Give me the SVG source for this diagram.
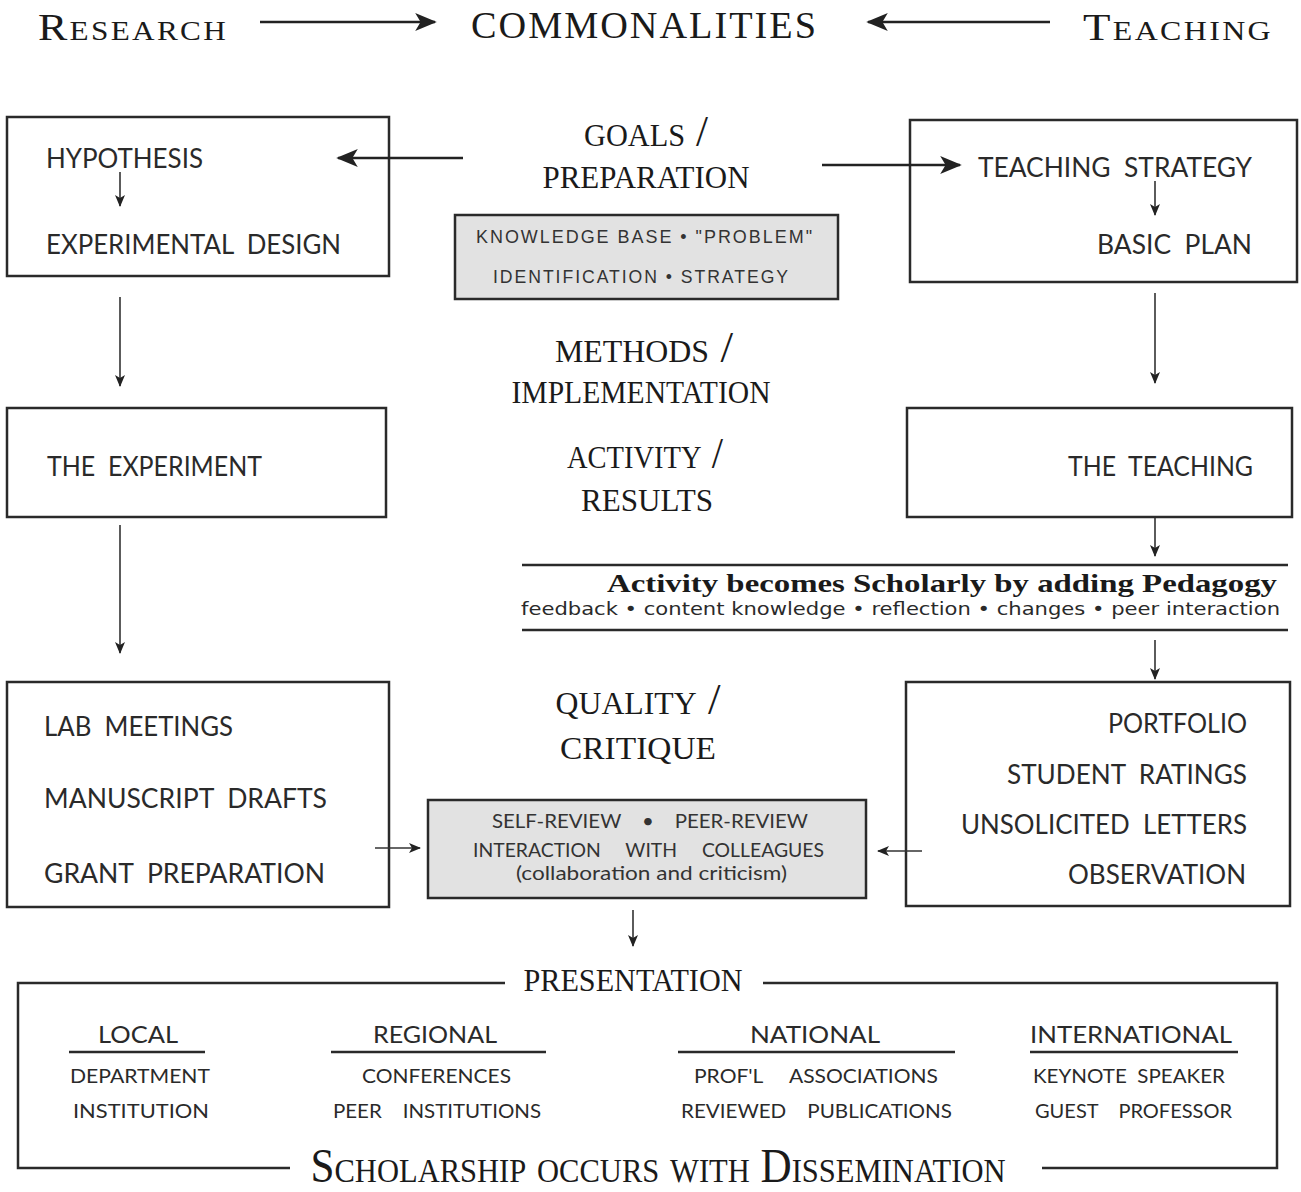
<svg xmlns="http://www.w3.org/2000/svg" width="1301" height="1192" viewBox="0 0 1301 1192">
<style>
.box{fill:#fff;stroke:#2a2a2a;stroke-width:2.5}
.gbox{fill:#e2e2e2;stroke:#2a2a2a;stroke-width:2.5}
.ln{stroke:#2a2a2a;stroke-width:2.5;fill:none}
.c{stroke:#333;stroke-width:1.6;fill:none}
.cb{stroke:#222;stroke-width:2.5;fill:none}
.lab{font-family:"Lato","Liberation Sans",sans-serif;font-size:27px;fill:#2a2a2a}
.unc{font-family:"Liberation Serif","DejaVu Serif",serif;font-variant:small-caps;font-size:44px;fill:#1a1a1a;text-anchor:middle}
.tit{font-family:"Liberation Serif",serif;font-variant:small-caps;font-size:38px;fill:#1a1a1a;letter-spacing:2px}
.sm{font-family:"Liberation Sans",sans-serif;font-size:18px;fill:#333;letter-spacing:2px}
.gs{font-family:"Lato","Liberation Sans",sans-serif;font-size:19px;fill:#333}
.bt{font-family:"Lato","Liberation Sans",sans-serif;font-size:23px;fill:#2a2a2a}
.bs{font-family:"Lato","Liberation Sans",sans-serif;font-size:20px;fill:#2a2a2a}
</style>
<defs>
<marker id="ah" viewBox="0 0 12 10" refX="11" refY="5" markerWidth="12" markerHeight="10" markerUnits="userSpaceOnUse" orient="auto">
<path d="M0,0 L12,5 L0,10 L3,5 z" fill="#222"/>
</marker>
<marker id="ahb" viewBox="0 0 12 10" refX="11" refY="5" markerWidth="22" markerHeight="18" markerUnits="userSpaceOnUse" orient="auto">
<path d="M0,0 L12,5 L0,10 L3,5 z" fill="#222"/>
</marker>
</defs>

<g id="titles">
<text class="tit" x="38" y="40" textLength="190" lengthAdjust="spacingAndGlyphs">Research</text>
<text class="tit" x="471" y="38" textLength="347" lengthAdjust="spacingAndGlyphs" style="font-variant:normal">COMMONALITIES</text>
<text class="tit" x="1083" y="40" textLength="190" lengthAdjust="spacingAndGlyphs">Teaching</text>
</g>

<g id="hypothesis">
<rect class="box" x="7" y="117" width="382" height="159"/>
<text class="lab" x="46" y="168" textLength="157" lengthAdjust="spacingAndGlyphs">HYPOTHESIS</text>
<text class="lab" x="46" y="254" textLength="295" lengthAdjust="spacingAndGlyphs" xml:space="preserve">EXPERIMENTAL  DESIGN</text>
</g>

<g id="goals">
<text class="unc" x="646" y="146" textLength="124" lengthAdjust="spacingAndGlyphs">goals /</text>
<text class="unc" x="646" y="188" textLength="207" lengthAdjust="spacingAndGlyphs">preparation</text>
</g>

<g id="knowledge">
<rect class="gbox" x="455" y="215" width="383" height="84"/>
<text class="sm" x="476" y="243" textLength="338" lengthAdjust="spacingAndGlyphs">KNOWLEDGE BASE • "PROBLEM"</text>
<text class="sm" x="493" y="283" textLength="297" lengthAdjust="spacingAndGlyphs">IDENTIFICATION • STRATEGY</text>
</g>

<g id="teaching-strategy">
<rect class="box" x="910" y="120" width="387" height="162"/>
<text class="lab" x="978" y="177" textLength="274" lengthAdjust="spacingAndGlyphs" xml:space="preserve">TEACHING  STRATEGY</text>
<text class="lab" x="1097" y="254" textLength="155" lengthAdjust="spacingAndGlyphs" xml:space="preserve">BASIC  PLAN</text>
</g>

<g id="methods">
<text class="unc" x="644" y="362" textLength="178" lengthAdjust="spacingAndGlyphs">methods /</text>
<text class="unc" x="641" y="403" textLength="259" lengthAdjust="spacingAndGlyphs">implementation</text>
</g>

<g id="experiment">
<rect class="box" x="7" y="408" width="379" height="109"/>
<text class="lab" x="47" y="476" textLength="215" lengthAdjust="spacingAndGlyphs" xml:space="preserve">THE  EXPERIMENT</text>
</g>

<g id="activity">
<text class="unc" x="645" y="468" textLength="156" lengthAdjust="spacingAndGlyphs">activity /</text>
<text class="unc" x="647" y="511" textLength="132" lengthAdjust="spacingAndGlyphs">results</text>
</g>

<g id="the-teaching">
<rect class="box" x="907" y="408" width="385" height="109"/>
<text class="lab" x="1068" y="476" textLength="185" lengthAdjust="spacingAndGlyphs" xml:space="preserve">THE  TEACHING</text>
</g>

<g id="pedagogy">
<line class="ln" x1="522" y1="565" x2="1288" y2="565"/>
<line class="ln" x1="522" y1="630" x2="1288" y2="630"/>
<text x="607" y="592" textLength="670" lengthAdjust="spacingAndGlyphs" style="font-family:'Liberation Serif',serif;font-weight:bold;font-size:25px;fill:#1a1a1a">Activity becomes Scholarly by adding Pedagogy</text>
<text x="521" y="615" textLength="759" lengthAdjust="spacingAndGlyphs" style="font-family:'DejaVu Sans','Liberation Sans',sans-serif;font-size:17px;fill:#2a2a2a">feedback • content knowledge • reflection • changes • peer interaction</text>
</g>

<g id="lab-meetings">
<rect class="box" x="7" y="682" width="382" height="225"/>
<text class="lab" x="44" y="736" textLength="189" lengthAdjust="spacingAndGlyphs" xml:space="preserve">LAB  MEETINGS</text>
<text class="lab" x="44" y="808" textLength="283" lengthAdjust="spacingAndGlyphs" xml:space="preserve">MANUSCRIPT  DRAFTS</text>
<text class="lab" x="44" y="883" textLength="281" lengthAdjust="spacingAndGlyphs" xml:space="preserve">GRANT  PREPARATION</text>
</g>

<g id="quality">
<text class="unc" x="638" y="714" textLength="165" lengthAdjust="spacingAndGlyphs">quality /</text>
<text class="unc" x="638" y="759" textLength="156" lengthAdjust="spacingAndGlyphs">critique</text>
</g>

<g id="review">
<rect class="gbox" x="428" y="800" width="438" height="98"/>
<text class="gs" x="492" y="828" textLength="316" lengthAdjust="spacingAndGlyphs" xml:space="preserve">SELF-REVIEW    •    PEER-REVIEW</text>
<text class="gs" x="473" y="857" textLength="351" lengthAdjust="spacingAndGlyphs" xml:space="preserve">INTERACTION     WITH     COLLEAGUES</text>
<text class="gs" x="516" y="880" textLength="271" lengthAdjust="spacingAndGlyphs">(collaboration and criticism)</text>
</g>

<g id="portfolio">
<rect class="box" x="906" y="682" width="384" height="224"/>
<text class="lab" x="1108" y="733" textLength="139" lengthAdjust="spacingAndGlyphs">PORTFOLIO</text>
<text class="lab" x="1007" y="784" textLength="240" lengthAdjust="spacingAndGlyphs" xml:space="preserve">STUDENT  RATINGS</text>
<text class="lab" x="961" y="834" textLength="286" lengthAdjust="spacingAndGlyphs" xml:space="preserve">UNSOLICITED  LETTERS</text>
<text class="lab" x="1068" y="884" textLength="178" lengthAdjust="spacingAndGlyphs">OBSERVATION</text>
</g>

<g id="presentation">
<path class="ln" d="M505,983 H18 V1168 H290"/>
<path class="ln" d="M763,983 H1277 V1168 H1042"/>
<text class="unc" x="633" y="991" textLength="219" lengthAdjust="spacingAndGlyphs">presentation</text>
<text class="unc" x="658" y="1182" textLength="695" lengthAdjust="spacingAndGlyphs" style="font-size:48px">Scholarship occurs with Dissemination</text>

<text class="bt" x="98" y="1043" textLength="80" lengthAdjust="spacingAndGlyphs">LOCAL</text>
<line class="ln" x1="69" y1="1052" x2="205" y2="1052"/>
<text class="bs" x="70" y="1083" textLength="140" lengthAdjust="spacingAndGlyphs">DEPARTMENT</text>
<text class="bs" x="73" y="1118" textLength="136" lengthAdjust="spacingAndGlyphs">INSTITUTION</text>

<text class="bt" x="373" y="1043" textLength="124" lengthAdjust="spacingAndGlyphs">REGIONAL</text>
<line class="ln" x1="331" y1="1052" x2="546" y2="1052"/>
<text class="bs" x="362" y="1083" textLength="149" lengthAdjust="spacingAndGlyphs">CONFERENCES</text>
<text class="bs" x="333" y="1118" textLength="208" lengthAdjust="spacingAndGlyphs" xml:space="preserve">PEER    INSTITUTIONS</text>

<text class="bt" x="750" y="1043" textLength="130" lengthAdjust="spacingAndGlyphs">NATIONAL</text>
<line class="ln" x1="678" y1="1052" x2="955" y2="1052"/>
<text class="bs" x="694" y="1083" textLength="244" lengthAdjust="spacingAndGlyphs" xml:space="preserve">PROF'L     ASSOCIATIONS</text>
<text class="bs" x="681" y="1118" textLength="271" lengthAdjust="spacingAndGlyphs" xml:space="preserve">REVIEWED    PUBLICATIONS</text>

<text class="bt" x="1030" y="1043" textLength="202" lengthAdjust="spacingAndGlyphs">INTERNATIONAL</text>
<line class="ln" x1="1030" y1="1052" x2="1238" y2="1052"/>
<text class="bs" x="1033" y="1083" textLength="192" lengthAdjust="spacingAndGlyphs" xml:space="preserve">KEYNOTE  SPEAKER</text>
<text class="bs" x="1035" y="1118" textLength="197" lengthAdjust="spacingAndGlyphs" xml:space="preserve">GUEST    PROFESSOR</text>
</g>

<g id="connectors">
<line class="cb" x1="260" y1="22" x2="435" y2="22" marker-end="url(#ahb)"/>
<line class="cb" x1="1050" y1="22" x2="868" y2="22" marker-end="url(#ahb)"/>
<line class="cb" x1="463" y1="158" x2="338" y2="158" marker-end="url(#ahb)"/>
<line class="cb" x1="822" y1="165" x2="960" y2="165" marker-end="url(#ahb)"/>
<line class="c" x1="120" y1="172" x2="120" y2="206" marker-end="url(#ah)"/>
<line class="c" x1="1155" y1="181" x2="1155" y2="215" marker-end="url(#ah)"/>
<line class="c" x1="120" y1="297" x2="120" y2="386" marker-end="url(#ah)"/>
<line class="c" x1="1155" y1="293" x2="1155" y2="383" marker-end="url(#ah)"/>
<line class="c" x1="120" y1="525" x2="120" y2="653" marker-end="url(#ah)"/>
<line class="c" x1="1155" y1="518" x2="1155" y2="556" marker-end="url(#ah)"/>
<line class="c" x1="1155" y1="640" x2="1155" y2="679" marker-end="url(#ah)"/>
<line class="c" x1="375" y1="848" x2="420" y2="848" marker-end="url(#ah)"/>
<line class="c" x1="922" y1="851" x2="878" y2="851" marker-end="url(#ah)"/>
<line class="c" x1="633" y1="910" x2="633" y2="946" marker-end="url(#ah)"/>
</g>
</svg>
